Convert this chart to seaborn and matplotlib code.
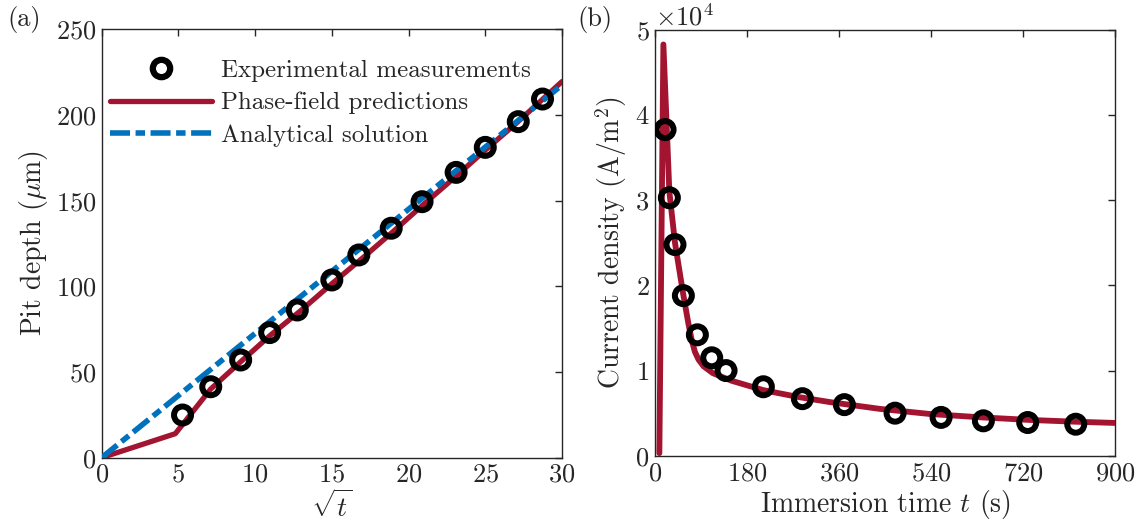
import numpy as np
import pandas as pd
import seaborn as sns
import matplotlib.pyplot as plt
from matplotlib.lines import Line2D
from matplotlib.ticker import ScalarFormatter

# (a) pit depth vs sqrt(t)
exp_sqrt_t = [5.27, 7.11, 9.06, 10.95, 12.75, 15.0, 16.76, 18.87, 20.88, 23.1, 25.0, 27.15, 28.73]
exp_depth = [24.9, 41.4, 57.0, 73.0, 86.2, 103.7, 118.3, 133.9, 149.4, 166.5, 181.1, 196.1, 209.3]

pf_sqrt_t = [0, 4.8, 7.1, 9.0, 11.0, 13.0, 15.0, 17.0, 19.0, 21.0, 23.0, 25.0, 27.0, 30.0]
pf_depth = [0, 14.0, 40.0, 55.5, 71.5, 86.0, 101.5, 116.5, 132.0, 148.0, 163.5, 179.5, 195.0, 219.5]

an_sqrt_t = [0, 30]
an_depth = [0, 217.5]

# (b) current density vs time
exp_time = [19.6, 28, 39, 55.4, 82.8, 110.9, 138.9, 211.9, 288.3, 370.4, 469.6, 559.6, 642.4, 729.1, 823.1]
exp_current = [38300, 30300, 24800, 18800, 14200, 11500, 10000, 8100, 6700, 6000, 5000, 4500, 4100, 3900, 3700]

pf_time = [8.4, 16.3, 28, 39, 55, 65, 72, 78, 85, 95, 113, 150, 212, 280, 342, 440, 538, 640, 734, 820, 900]
pf_current = [300, 48300, 31000, 25000, 19000, 15600, 13500, 12200, 11300, 10500, 9700, 8800, 7700, 6900,
              6300, 5500, 4900, 4500, 4200, 4000, 3850]

red = "#A2142F"
blue = "#0072BD"
dashdot = (0, (3.6, 1.0, 1.7, 1.0))

sns.set_theme(style="white")
plt.rcParams["font.family"] = ["cmr10", "DejaVu Serif"]
plt.rcParams["mathtext.fontset"] = "cm"
plt.rcParams["axes.formatter.use_mathtext"] = True
plt.rcParams["axes.unicode_minus"] = False

fig = plt.figure(figsize=(11.46, 5.26), dpi=100)
ax1 = fig.add_axes([0.0887, 0.1299, 0.4017, 0.8144])
ax2 = fig.add_axes([0.5716, 0.1336, 0.4014, 0.8094])

fs = 19
ring = dict(marker="o", s=150, facecolor="none", edgecolor="black", linewidth=4.3, zorder=5)

sns.lineplot(x=pf_sqrt_t, y=pf_depth, ax=ax1, color=red, linewidth=3.8, zorder=3)
sns.lineplot(x=an_sqrt_t, y=an_depth, ax=ax1, color=blue, linewidth=4.0, zorder=4,
             linestyle=dashdot)
sns.scatterplot(x=exp_sqrt_t, y=exp_depth, ax=ax1, **ring)

ax1.set_xlim(0, 30)
ax1.set_ylim(0, 250)
ax1.set_xticks(range(0, 31, 5))
ax1.set_yticks(range(0, 251, 50))
ax1.set_xlabel(r"$\sqrt{t}$", fontsize=fs + 1)
ax1.set_ylabel(r"Pit depth ($\mu$m)", fontsize=fs + 1)

handles = [
    Line2D([], [], marker="o", markersize=12.5, markerfacecolor="none", markeredgecolor="black",
           markeredgewidth=4.5, linestyle="none"),
    Line2D([], [], color=red, linewidth=3.8),
    Line2D([], [], color=blue, linewidth=4.0, linestyle=dashdot),
]
labels = ["Experimental measurements", "Phase-field predictions", "Analytical solution"]
ax1.legend(handles, labels, loc="upper left", bbox_to_anchor=(0.018, 0.93), frameon=False,
           fontsize=18, borderpad=0, borderaxespad=0, handlelength=4.1, handletextpad=0.35,
           labelspacing=0.4)

sns.lineplot(x=pf_time, y=pf_current, ax=ax2, color=red, linewidth=4.2, zorder=3)
sns.scatterplot(x=exp_time, y=exp_current, ax=ax2, **ring)

ax2.set_xlim(0, 900)
ax2.set_ylim(0, 50000)
ax2.set_xticks(range(0, 901, 180))
ax2.set_yticks(range(0, 50001, 10000))
fmt = ScalarFormatter(useMathText=True)
fmt.set_powerlimits((0, 0))
ax2.yaxis.set_major_formatter(fmt)
ax2.yaxis.get_offset_text().set_fontsize(fs)
ax2.set_xlabel(r"Immersion time $t$ (s)", fontsize=fs + 1)
ax2.set_ylabel(r"Current density (A/m$^2$)", fontsize=fs + 1)

for ax in (ax1, ax2):
    ax.tick_params(direction="in", length=5, width=1, top=True, right=True,
                   labelsize=fs, colors="#262626", pad=4)
    for sp in ax.spines.values():
        sp.set_visible(True)
        sp.set_color("#262626")
        sp.set_linewidth(1.0)
    ax.xaxis.label.set_color("#262626")
    ax.yaxis.label.set_color("#262626")
    ax.xaxis.labelpad = 2
    ax.yaxis.labelpad = 4

fig.text(0.006, 0.962, "(a)", fontsize=fs, color="#262626", va="center")
fig.text(0.504, 0.962, "(b)", fontsize=fs, color="#262626", va="center")

fig.savefig("out.png", dpi=100)
